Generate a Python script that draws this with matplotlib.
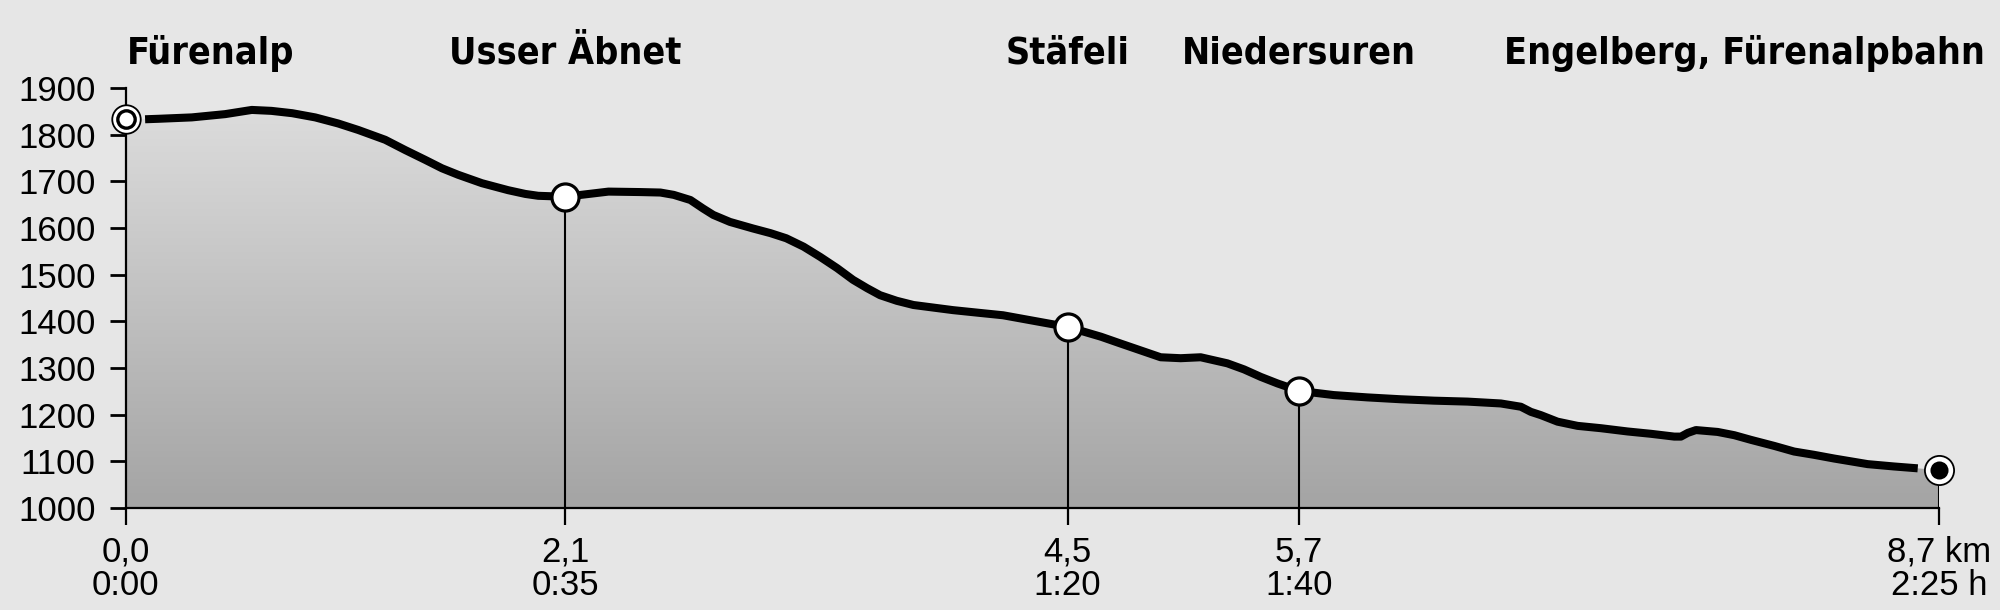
import numpy as np
import matplotlib
matplotlib.use("Agg")
import matplotlib.pyplot as plt
from matplotlib.colors import LinearSegmentedColormap
from matplotlib.patches import Polygon
import matplotlib.transforms as mtransforms

# ---------------- data ----------------
dist_km = [0.0, 0.094, 0.157, 0.318, 0.478, 0.606, 0.70, 0.80, 0.91, 1.02, 1.117, 1.246,
           1.342, 1.438, 1.518, 1.596, 1.71, 1.836, 1.918, 1.98, 2.11, 2.317, 2.47,
           2.566, 2.63, 2.71, 2.77, 2.82, 2.90, 3.01, 3.094, 3.17, 3.253, 3.333, 3.414,
           3.49, 3.558, 3.62, 3.70, 3.78, 3.97, 4.10, 4.21, 4.42, 4.52, 4.68, 4.77,
           4.966, 5.062, 5.158, 5.286, 5.366, 5.446, 5.526, 5.63, 5.796, 5.958, 6.118,
           6.278, 6.438, 6.598, 6.694, 6.742, 6.79, 6.87, 6.966, 7.078, 7.206, 7.318,
           7.43, 7.462, 7.495, 7.534, 7.638, 7.718, 7.798, 7.91, 8.005, 8.10, 8.197,
           8.358, 8.484, 8.598, 8.7]
elev_m = [1834, 1833, 1834, 1837, 1844, 1853, 1851, 1846, 1837, 1824, 1810, 1789,
          1767, 1746, 1728, 1714, 1696, 1681, 1673, 1669, 1667, 1678, 1677,
          1676, 1671, 1660, 1642, 1628, 1613, 1599, 1589, 1578, 1560, 1538, 1514,
          1489, 1471, 1456, 1444, 1435, 1424, 1418, 1413, 1396, 1388, 1367, 1353,
          1323, 1321, 1323, 1310, 1297, 1281, 1267, 1251, 1242, 1237, 1233,
          1230, 1228, 1224, 1217, 1206, 1199, 1185, 1176, 1171, 1164, 1159,
          1153, 1153, 1161, 1167, 1163, 1156, 1146, 1133, 1121, 1114, 1106,
          1094, 1089, 1085, 1081]

station_names = ["Fürenalp", "Usser Äbnet", "Stäfeli", "Niedersuren",
                 "Engelberg, Fürenalpbahn"]
station_km = [0.0, 2.11, 4.52, 5.63, 8.7]
km_labels = ["0,0", "2,1", "4,5", "5,7", "8,7 km"]
time_labels = ["0:00", "0:35", "1:20", "1:40", "2:25 h"]
y_ticks = [1000, 1100, 1200, 1300, 1400, 1500, 1600, 1700, 1800, 1900]

# ---------------- figure ----------------
BG = "#e6e6e6"
fig = plt.figure(figsize=(20, 6.1), dpi=100, facecolor=BG)
ax = fig.add_axes([125.5 / 2000, 1 - 508 / 610, (1939 - 125.5) / 2000, 420 / 610])
ax.set_facecolor(BG)
ax.set_xlim(0, 8.7)
ax.set_ylim(1000, 1900)

x = np.array(dist_km)
y = np.array(elev_m)

# gradient fill under the profile
cmap = LinearSegmentedColormap.from_list("g", ["#a4a4a4", "#dfdfdf"])
grad = np.linspace(0, 1, 256).reshape(-1, 1)
im = ax.imshow(grad, cmap=cmap, origin="lower", aspect="auto",
               extent=[0, 8.7, 1000, 1900], zorder=1)
poly = Polygon(np.column_stack([np.r_[x, x[-1], x[0]], np.r_[y, 1000, 1000]]),
               closed=True, transform=ax.transData, facecolor="none", edgecolor="none")
ax.add_patch(poly)
im.set_clip_path(poly)

# profile line (leaves gap at the end markers)
ax.plot(x[1:-1], y[1:-1], color="black", lw=5.8, solid_capstyle="butt",
        solid_joinstyle="round", zorder=3)

# station drop lines and markers
st_elev = np.interp(station_km, x, y)
ax.vlines(station_km[1:], 1000, st_elev[1:], color="black", lw=1.5, zorder=2)
ax.plot(station_km[1:4], st_elev[1:4], "o", ms=19.5, mfc="white", mec="black",
        mew=2.3, zorder=5, clip_on=False)
# start marker
ax.plot(station_km[0], st_elev[0], "o", ms=20.5, mfc="white", mec="black",
        mew=1.3, zorder=5, clip_on=False)
ax.plot(station_km[0], st_elev[0], "o", ms=12.5, mfc="white", mec="black",
        mew=2.4, zorder=6, clip_on=False)
# end marker
ax.plot(station_km[-1], st_elev[-1], "o", ms=21, mfc="white", mec="black",
        mew=1.3, zorder=5, clip_on=False)
ax.plot(station_km[-1], st_elev[-1], "o", ms=13, mfc="black", mec="black",
        mew=0, zorder=6, clip_on=False)

# axes styling
for s in ["top", "right"]:
    ax.spines[s].set_visible(False)
ax.spines["left"].set_linewidth(1.6)
ax.spines["bottom"].set_linewidth(1.6)
ax.spines["left"].set_zorder(4)
ax.spines["bottom"].set_zorder(4)

tick_font = dict(family=["Liberation Sans", "DejaVu Sans"], size=25)
ax.set_yticks(y_ticks)
ax.set_yticklabels([str(v) for v in y_ticks], fontdict=tick_font)
ax.set_xticks(station_km)
ax.set_xticklabels([f"{a}\n{b}" for a, b in zip(km_labels, time_labels)],
                   fontdict=tick_font, linespacing=1.0)
ax.tick_params(axis="y", direction="out", length=11.5, width=2, pad=10)
ax.tick_params(axis="x", direction="out", length=12, width=1.6, pad=8)

# station names
name_font = dict(family=["Noto Sans Condensed", "DejaVu Sans"], size=27,
                 weight="bold", stretch="condensed")
trans = mtransforms.blended_transform_factory(ax.transData, fig.transFigure)
ybase = 1 - 64 / 610
fig.text(127 / 2000, ybase, station_names[0], ha="left", va="baseline", **name_font)
for nm, km in zip(station_names[1:-1], station_km[1:-1]):
    ax.text(km, ybase, nm, transform=trans, ha="center", va="baseline", **name_font)
fig.text(1985 / 2000, ybase, station_names[-1], ha="right", va="baseline", **name_font)

fig.savefig("out.png", dpi=100, facecolor=BG)
